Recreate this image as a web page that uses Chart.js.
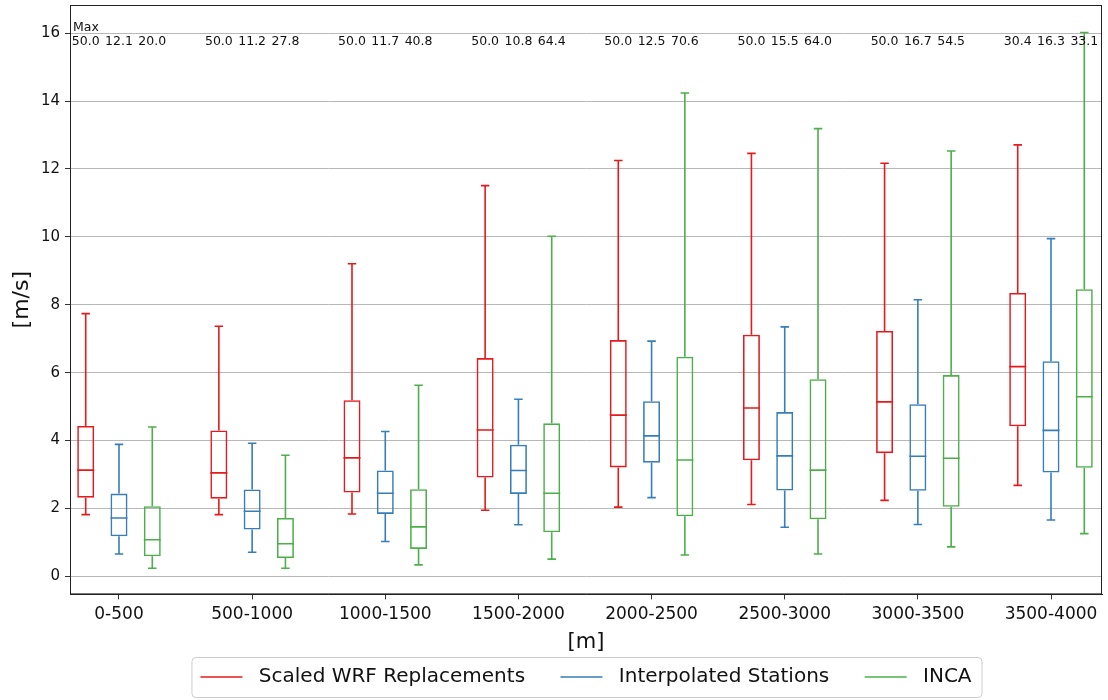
<!DOCTYPE html>
<html>
<head>
<meta charset="utf-8">
<title>Wind speed by elevation band</title>
<script src="https://cdn.jsdelivr.net/npm/chart.js@4.4.1/dist/chart.umd.min.js"></script>
<style>
    body { margin: 0; background: #ffffff; }
    canvas { display: block; }
</style>
</head>
<body>
<canvas id="plot1" width="1108" height="700"></canvas>
<script>
// elevation bands on the x axis
const categories = ["0-500", "500-1000", "1000-1500", "1500-2000", "2000-2500", "2500-3000", "3000-3500", "3500-4000"];
const seriesNames = ["Scaled WRF Replacements", "Interpolated Stations", "INCA"];
const seriesColors = ["#e41a1c", "#377eb8", "#4daf4a"];
const yTicks = [0, 2, 4, 6, 8, 10, 12, 14, 16];

// box statistics [m/s]
const wrfLow  = [1.82, 1.82, 1.84, 1.95, 2.04, 2.12, 2.24, 2.68];
const wrfQ1   = [2.32, 2.29, 2.47, 2.91, 3.21, 3.42, 3.63, 4.42];
const wrfMed  = [3.13, 3.05, 3.49, 4.31, 4.75, 4.96, 5.14, 6.18];
const wrfQ3   = [4.43, 4.30, 5.19, 6.43, 6.96, 7.12, 7.23, 8.35];
const wrfHigh = [7.74, 7.37, 9.21, 11.51, 12.25, 12.46, 12.17, 12.71];

const stLow  = [0.66, 0.71, 1.03, 1.52, 2.32, 1.45, 1.53, 1.66];
const stQ1   = [1.18, 1.38, 1.84, 2.43, 3.35, 2.53, 2.52, 3.06];
const stMed  = [1.72, 1.92, 2.45, 3.12, 4.14, 3.55, 3.54, 4.30];
const stQ3   = [2.44, 2.56, 3.12, 3.88, 5.16, 4.84, 5.07, 6.34];
const stHigh = [3.89, 3.92, 4.27, 5.22, 6.93, 7.35, 8.15, 9.95];

const incaLow  = [0.24, 0.24, 0.34, 0.51, 0.63, 0.66, 0.87, 1.26];
const incaQ1   = [0.59, 0.54, 0.81, 1.30, 1.77, 1.68, 2.05, 3.20];
const incaMed  = [1.08, 0.96, 1.46, 2.45, 3.43, 3.13, 3.48, 5.29];
const incaQ3   = [2.07, 1.72, 2.57, 4.51, 6.47, 5.81, 5.93, 8.46];
const incaHigh = [4.40, 3.57, 5.63, 10.02, 14.24, 13.19, 12.53, 16.02];

// maxima printed above the boxes
const wrfMax  = [50.0, 50.0, 50.0, 50.0, 50.0, 50.0, 50.0, 30.4];
const stMax   = [12.1, 11.2, 11.7, 10.8, 12.5, 15.5, 16.7, 16.3];
const incaMax = [20.0, 27.8, 40.8, 64.4, 70.6, 64.0, 54.5, 33.1];

const stats = [
    {low: wrfLow, q1: wrfQ1, med: wrfMed, q3: wrfQ3, high: wrfHigh, max: wrfMax},
    {low: stLow, q1: stQ1, med: stMed, q3: stQ3, high: stHigh, max: stMax},
    {low: incaLow, q1: incaQ1, med: incaMed, q3: incaQ3, high: incaHigh, max: incaMax}
];
const groupOffsets = [-0.25, 0, 0.25];

function boxData(s, d) {
    return categories.map((c, i) => ({x: i + 1 + groupOffsets[d], y: [s.q1[i], s.q3[i]]}));
}

// whiskers, caps and medians on top of the floating bars
const whiskerPlugin = {
    id: "whiskers",
    afterDatasetsDraw(chart) {
        const ctx = chart.ctx;
        const y = chart.scales.y;
        ctx.save();
        chart.data.datasets.forEach((ds, d) => {
            const s = stats[d];
            ctx.strokeStyle = seriesColors[d];
            ctx.lineWidth = 1.6;
            chart.getDatasetMeta(d).data.forEach((bar, i) => {
                const half = bar.width / 2;
                const cap = half / 2;
                ctx.beginPath();
                ctx.moveTo(bar.x, y.getPixelForValue(s.low[i]));
                ctx.lineTo(bar.x, y.getPixelForValue(s.q1[i]));
                ctx.moveTo(bar.x, y.getPixelForValue(s.q3[i]));
                ctx.lineTo(bar.x, y.getPixelForValue(s.high[i]));
                ctx.moveTo(bar.x - cap, y.getPixelForValue(s.low[i]));
                ctx.lineTo(bar.x + cap, y.getPixelForValue(s.low[i]));
                ctx.moveTo(bar.x - cap, y.getPixelForValue(s.high[i]));
                ctx.lineTo(bar.x + cap, y.getPixelForValue(s.high[i]));
                ctx.moveTo(bar.x - half, y.getPixelForValue(s.med[i]));
                ctx.lineTo(bar.x + half, y.getPixelForValue(s.med[i]));
                ctx.stroke();
            });
        });
        ctx.restore();
    },
    afterDraw(chart) {
        const ctx = chart.ctx;
        const area = chart.chartArea;
        ctx.save();
        // axes frame
        ctx.strokeStyle = "#222";
        ctx.lineWidth = 1;
        ctx.strokeRect(area.left + 0.5, area.top + 0.5, area.right - area.left - 1, area.bottom - area.top - 1);

        // "Max" row
        ctx.fillStyle = "#111";
        ctx.font = "12.5px 'DejaVu Sans'";
        ctx.textBaseline = "middle";
        ctx.textAlign = "left";
        ctx.fillText("Max", area.left + 3, area.top + 23);
        ctx.textAlign = "center";
        chart.data.datasets.forEach((ds, d) => {
            chart.getDatasetMeta(d).data.forEach((bar, i) => {
                ctx.fillText(stats[d].max[i].toFixed(1), bar.x, area.top + 37);
            });
        });

        // frame round the legend
        const boxes = chart.legend.legendHitBoxes;
        if (boxes && boxes.length) {
            const left = Math.min(...boxes.map(b => b.left)) - 9;
            const right = Math.max(...boxes.map(b => b.left + b.width)) + 10;
            const top = Math.min(...boxes.map(b => b.top)) - 10;
            const bottom = Math.max(...boxes.map(b => b.top + b.height)) + 10;
            ctx.strokeStyle = "#cccccc";
            ctx.beginPath();
            ctx.roundRect(left + 0.5, top + 0.5, right - left, bottom - top, 4);
            ctx.stroke();
        }
        ctx.restore();
    }
};

const datasets = seriesNames.map((name, d) => ({
    label: name,
    data: boxData(stats[d], d),
    backgroundColor: "rgba(0,0,0,0)",
    borderColor: seriesColors[d],
    borderWidth: 1.6,
    borderSkipped: false,
    grouped: false,
    maxBarThickness: 17
}));

new Chart(document.getElementById("plot1").getContext("2d"), {
    type: "bar",
    data: {datasets: datasets},
    plugins: [whiskerPlugin],
    options: {
        responsive: false,
        animation: false,
        events: [],
        layout: {padding: {top: 5, right: 6, left: 0, bottom: 3}},
        scales: {
            x: {
                type: "linear",
                min: 0.632,
                max: 8.383,
                offset: false,
                afterBuildTicks: (scale) => {
                    scale.ticks = categories.map((c, i) => ({value: i + 1}));
                },
                ticks: {
                    autoSkip: false,
                    maxRotation: 0,
                    padding: 5,
                    color: "#111",
                    font: {family: "DejaVu Sans", size: 17},
                    callback: (v) => categories[v - 1]
                },
                grid: {offset: false, drawOnChartArea: false, tickLength: 5, tickColor: "#333"},
                border: {color: "#222"},
                title: {
                    display: true,
                    text: "[m]",
                    color: "#111",
                    font: {family: "DejaVu Sans", size: 21},
                    padding: {top: 0, bottom: 2}
                }
            },
            y: {
                min: -0.53,
                max: 16.83,
                afterFit: (scale) => {
                    scale.width = 70;
                    scale.paddingTop = 0;
                    scale.paddingBottom = 0;
                },
                afterBuildTicks: (scale) => {
                    scale.ticks = yTicks.map(v => ({value: v}));
                },
                ticks: {
                    padding: 5,
                    color: "#111",
                    font: {family: "DejaVu Sans", size: 15}
                },
                grid: {color: "#b8b8b8", lineWidth: 1, tickLength: 5, tickColor: "#333"},
                border: {color: "#222"},
                title: {
                    display: true,
                    text: "[m/s]",
                    color: "#111",
                    font: {family: "DejaVu Sans", size: 22},
                    padding: {top: 9, bottom: 0}
                }
            }
        },
        plugins: {
            tooltip: {enabled: false},
            legend: {
                position: "bottom",
                fullSize: false,
                labels: {
                    color: "#111",
                    font: {family: "DejaVu Sans", size: 20},
                    usePointStyle: true,
                    pointStyle: "line",
                    pointStyleWidth: 42,
                    padding: 10,
                    generateLabels: (chart) => {
                        const items = Chart.defaults.plugins.legend.labels.generateLabels(chart);
                        items.forEach((item, i) => {
                            item.text = " " + item.text + (i < items.length - 1 ? "    " : "");
                            item.lineWidth = 1.6;
                        });
                        return items;
                    }
                }
            }
        }
    }
});
</script>
</body>
</html>
